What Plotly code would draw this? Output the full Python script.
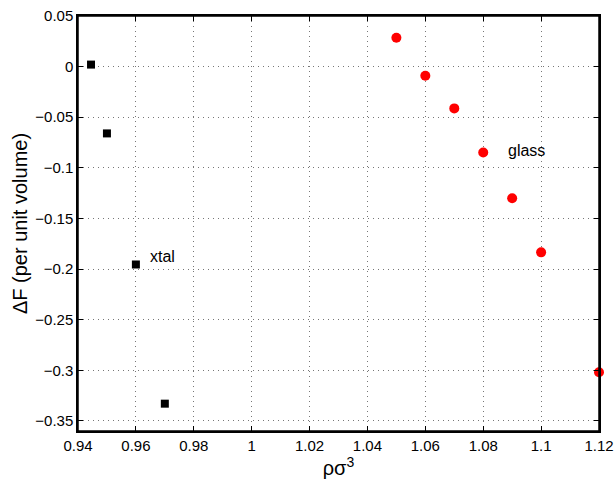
import plotly.graph_objects as go

xtal_x = [0.9445, 0.95, 0.96, 0.97]
xtal_y = [0.002, -0.066, -0.1955, -0.333]
glass_x = [1.05, 1.06, 1.07, 1.08, 1.09, 1.10, 1.12]
glass_y = [0.0285, -0.009, -0.0413, -0.0848, -0.130, -0.1835, -0.302]

x_ticks = [0.94, 0.96, 0.98, 1.00, 1.02, 1.04, 1.06, 1.08, 1.10, 1.12]
x_labels = ["0.94", "0.96", "0.98", "1", "1.02", "1.04", "1.06", "1.08", "1.1", "1.12"]
y_ticks = [0.05, 0, -0.05, -0.1, -0.15, -0.2, -0.25, -0.3, -0.35]
y_labels = ["0.05", "0", "\u22120.05", "\u22120.1", "\u22120.15", "\u22120.2", "\u22120.25", "\u22120.3", "\u22120.35"]

fig = go.Figure()
fig.add_trace(go.Scatter(x=xtal_x, y=xtal_y, mode="markers", cliponaxis=False,
                         marker=dict(symbol="square", size=8, color="black"), name="xtal"))
fig.add_trace(go.Scatter(x=glass_x, y=glass_y, mode="markers", cliponaxis=False,
                         marker=dict(symbol="circle", size=10, color="#ff0000"), name="glass"))

font = "Liberation Sans, Arial, sans-serif"
fig.add_annotation(x=0.9641, y=-0.1874, text="xtal", showarrow=False, xanchor="left",
                   font=dict(family=font, size=16, color="black"))
fig.add_annotation(x=1.088, y=-0.0828, text="glass", showarrow=False, xanchor="left",
                   font=dict(family=font, size=16, color="black"))

# plot frame
fig.add_shape(type="rect", xref="x domain", yref="y domain", x0=0, x1=1, y0=0, y1=1,
              line=dict(color="black", width=1.5), layer="above")

axis_common = dict(showline=True, linecolor="black", linewidth=1.5, mirror="allticks",
                   ticks="inside", ticklen=5, tickcolor="black", showgrid=True,
                   gridcolor="#777777", griddash="1px,4px", gridwidth=1, zeroline=False,
                   automargin=False,
                   tickfont=dict(family=font, size=15, color="black"))

fig.update_xaxes(range=[0.94, 1.12], tickvals=x_ticks, ticktext=x_labels,
                 title=dict(text="\u03c1\u03c3<sup>3</sup>", font=dict(family=font, size=20, color="black"), standoff=0),
                 **axis_common)
fig.update_yaxes(range=[-0.36, 0.05], tickvals=y_ticks, ticktext=y_labels,
                 title=dict(text="\u0394F (per unit volume)", font=dict(family=font, size=20, color="black"), standoff=2),
                 **axis_common)

fig.update_layout(width=614, height=480, margin=dict(l=78, r=15, t=16, b=49),
                  paper_bgcolor="white", plot_bgcolor="white", showlegend=False)

fig.write_html("out.html", config={"displayModeBar": False},
               post_script="document.body.style.margin='0px';document.body.style.overflow='hidden';")
